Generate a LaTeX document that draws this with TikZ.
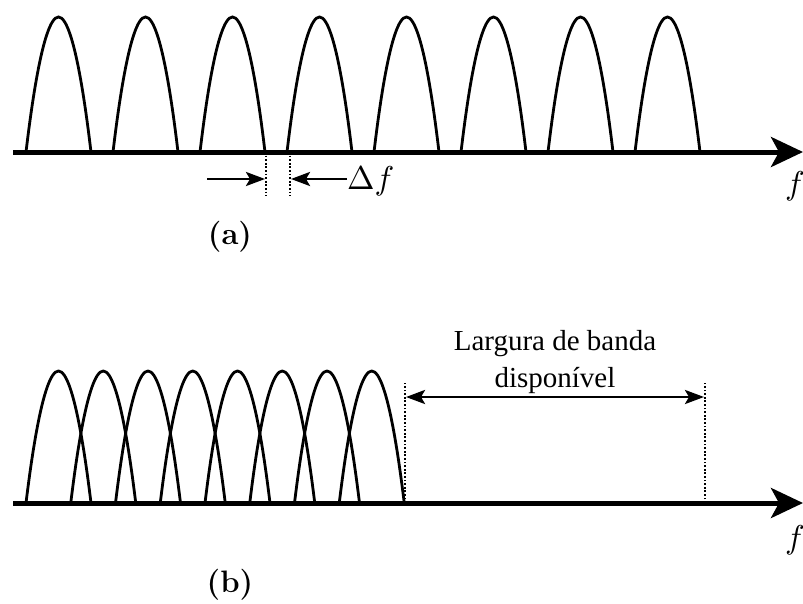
\documentclass[tikz,border=0pt]{standalone}
\usepackage{fontspec}
\usepackage{graphicx}
\newfontfamily\lbfont{Liberation Serif}
\usetikzlibrary{arrows.meta}
\newcommand{\bigmath}[1]{\scalebox{3.3}{\normalsize$#1$}}
\begin{document}
\begin{tikzpicture}[x=1pt,y=-1pt,
    lobe/.style={line width=2.8pt},
    axis/.style={line width=5pt,-{Stealth[length=32pt,width=30pt,inset=8pt]}},
    guide/.style={line width=1.8pt,dash pattern=on 1.8pt off 1.8pt},
    dim/.style={line width=2.6pt,-{Stealth[length=19pt,width=14pt,inset=4pt]}},
    lbl/.style={font=\fontsize{31}{40}\selectfont,inner sep=0pt}]
	  \useasboundingbox (0,0) rectangle (803,603);
	  % (a) espacamento com banda de guarda
	  \coordinate (ax0) at (13,152);
	  \coordinate (ax1) at (803,152);
	  \draw[axis] (ax0) -- (ax1);
	  \foreach \i in {0,...,7}
	    \draw[lobe] ({26+87*\i},152) parabola bend ({58.5+87*\i},17) ({91+87*\i},152);
	  \coordinate (g1) at (266,152);
	  \coordinate (g1b) at (266,196);
	  \coordinate (g2) at (290,152);
	  \coordinate (g2b) at (290,196);
	  \draw[guide] (g1) -- (g1b);
	  \draw[guide] (g2) -- (g2b);
	  \coordinate (r0) at (207,179);
	  \coordinate (r1) at (265,179);
	  \draw[dim] (r0) -- (r1);
	  \node[lbl,anchor=west] (df) at (347,181) {\bigmath{\Delta f}};
	  \coordinate (l1) at (291,179);
	  \draw[dim] (df.west |- l1) -- (l1);
	  \node[lbl] (fa) at (795,186) {\bigmath{f}};
	  \node[lbl] (capa) at (230,237) {\textbf{(a)}};
	  % (b) OFDM
	  \coordinate (bx0) at (13,503);
	  \coordinate (bx1) at (803,503);
	  \draw[axis] (bx0) -- (bx1);
	  \foreach \i in {0,...,7}
	    \draw[lobe] ({26+44.75*\i},503) parabola bend ({58.5+44.75*\i},371) ({91+44.75*\i},503);
	  \coordinate (b1) at (405,503);
	  \coordinate (b1t) at (405,383);
	  \coordinate (b2) at (705,503);
	  \coordinate (b2t) at (705,383);
	  \draw[guide] (b1) -- (b1t);
	  \draw[guide] (b2) -- (b2t);
	  \coordinate (w1) at (406,397);
	  \coordinate (w2) at (704,397);
	  \draw[dim,{Stealth[length=19pt,width=14pt,inset=4pt]}-{Stealth[length=19pt,width=14pt,inset=4pt]}] (w1) -- (w2);
	  \node[lbl,font=\lbfont\fontsize{29}{37}\selectfont,align=center] (bw) at (555,362) {Largura de banda\\disponível};
	  \node[lbl] (fb) at (795,540) {\bigmath{f}};
	  \node[lbl] (capb) at (230,585) {\textbf{(b)}};
	\end{tikzpicture}
\end{document}
